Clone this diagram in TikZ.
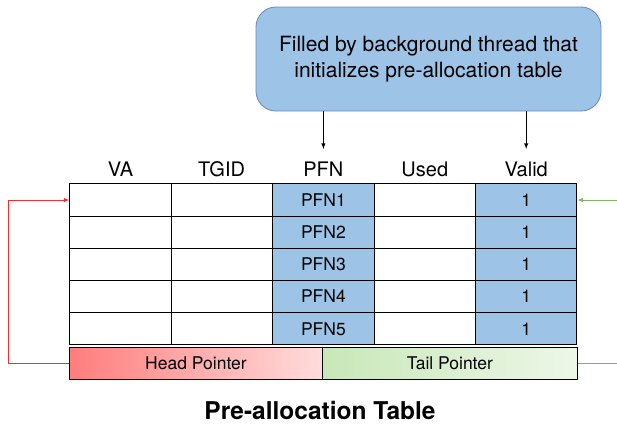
\documentclass[tikz,border=0pt]{standalone}
\usepackage{fontspec}
\setmainfont{TeX Gyre Heros}
\usetikzlibrary{positioning}

\definecolor{cellblue}{HTML}{9DC3E6}
\definecolor{boxedge}{HTML}{6C8EBF}
\definecolor{headdark}{HTML}{FF7D7D}
\definecolor{headlight}{HTML}{FFDCDC}
\definecolor{taildark}{HTML}{C8E7B8}
\definecolor{taillight}{HTML}{EDF7E8}
\definecolor{headwire}{HTML}{F03030}
\definecolor{tailwire}{HTML}{82B366}

\tikzset{
  cell/.style={draw, minimum width=101.4pt, minimum height=32.2pt, inner sep=0pt,
    font=\fontsize{17.5}{20}\selectfont},
  pfn/.style={cell, fill=cellblue},
  hdr/.style={inner sep=0pt, text depth=0pt, font=\fontsize{20}{24}\selectfont},
  ptr/.style={draw, minimum height=32pt, inner sep=0pt, font=\fontsize{17.5}{20}\selectfont},
  fillarrow/.style={->, >=latex, shorten >=12pt},
}

\begin{document}
\begin{tikzpicture}[x=1pt, y=-1pt, line width=0.9pt]
  \useasboundingbox (0,0) rectangle (617,426);

  % background thread box
  \node [draw=boxedge, fill=cellblue, rounded corners=20pt, minimum width=345pt,
         minimum height=104pt, align=center, font=\fontsize{21}{26}\selectfont]
        (filler) at (428.5,59) {Filled by background thread that\\initializes pre-allocation table};

  % the table
  \matrix (tbl) [matrix anchor=north west, nodes={cell},
                 column sep=-0.9pt, row sep=-0.9pt, inner sep=0pt] at (69,183)
  {
    \node(va1){}; & \node{}; & \node[pfn](pfn1){PFN1}; & \node(used1){}; & \node[pfn](valid1){1}; \\
    \node{};      & \node{}; & \node[pfn]{PFN2};       & \node{};        & \node[pfn]{1}; \\
    \node{};      & \node{}; & \node[pfn]{PFN3};       & \node{};        & \node[pfn]{1}; \\
    \node{};      & \node{}; & \node[pfn]{PFN4};       & \node{};        & \node[pfn]{1}; \\
    \node{};      & \node{}; & \node[pfn]{PFN5};       & \node{};        & \node[pfn]{1}; \\
  };

  % column headers
  \node [hdr, above=7pt of va1]    (hva)    {VA};
  \node [hdr, above=7pt of va1.north -| pfn1.west, xshift=-50.7pt, anchor=south] (htgid) {TGID};
  \node [hdr, above=7pt of pfn1]   (hpfn)   {PFN};
  \node [hdr, above=7pt of used1]  (hused)  {Used};
  \node [hdr, above=7pt of valid1] (hvalid) {Valid};

  % pointers
  \node [ptr, anchor=north west, minimum width=253pt, left color=headdark, right color=headlight]
        (head) at ([yshift=-0.9pt]tbl.south west) {Head Pointer};
  \node [ptr, right=-0.9pt of head, minimum width=254.8pt, left color=taildark, right color=taillight]
        (tail) {Tail Pointer};

  \node [font=\bfseries\fontsize{24.5}{28}\selectfont] (title) at (320,410) {Pre-allocation Table};

  \draw [fillarrow] (filler.south -| hpfn) -- (hpfn.north);
  \draw [fillarrow] (filler.south -| hvalid) -- (hvalid.north);

  \draw [headwire, ->, >=latex] (head.west) -- ++(-61,0) |- (va1.west);

  \coordinate (tailin)  at (617,198);
  \coordinate (tailout) at (617,363);
  \draw [tailwire, ->, >=latex] (valid1.east -| tailin) -- (valid1.east);
  \draw [tailwire] (tail.east) -- (tail.east -| tailout);
\end{tikzpicture}
\end{document}
